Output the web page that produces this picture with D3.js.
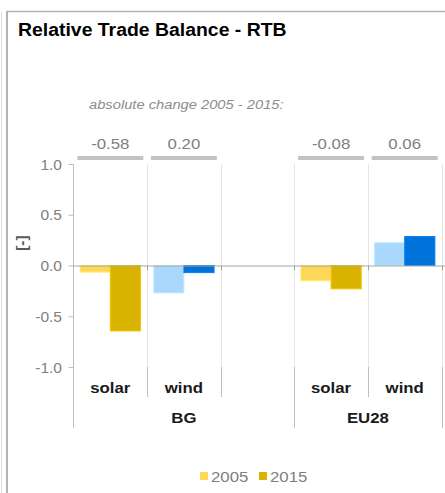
<!DOCTYPE html>
<html><head><meta charset="utf-8">
<script src="https://cdn.jsdelivr.net/npm/d3@7"></script>
<style>html,body{margin:0;padding:0;background:#fff;}svg{display:block;font-family:"Liberation Sans",Arial,sans-serif;}</style>
</head><body>
<svg id="c" width="445" height="493"></svg>
<script>
// ---- data ----
const slots = ["BG-solar","BG-wind","gap","EU28-solar","EU28-wind"];
const slotTech = ["solar","wind",null,"solar","wind"];
const groups = ["BG","EU28"];
const groupSlots = [["BG-solar","BG-wind","gap"],["EU28-solar","EU28-wind"]];
const years = ["2005","2015"];
const values2005 = [-0.065, -0.27, null, -0.15, 0.225];
const values2015 = [-0.645, -0.07, null, -0.23, 0.285];
const changeLabels = ["-0.58","0.20",null,"-0.08","0.06"];
const yTicks = [-1.0,-0.5,0.0,0.5,1.0];
const colors = {solar:["#FFD757","#D9B300"], wind:["#AAD8FC","#0073DA"]};

const svg = d3.select("#c");
// stretched text helper
function txt(parent, x, y, str, o){
  o = o||{};
  const g = parent.append("g").attr("transform",`translate(${x},${y}) scale(${o.sx||1.1},1)`);
  const t = g.append("text").attr("x",0).attr("y",0).attr("font-size",o.size||15)
    .attr("fill",o.fill||"#808080").attr("text-anchor",o.anchor||"start").text(str);
  if(o.bold) t.attr("font-weight","bold");
  if(o.italic) t.attr("font-style","italic");
  return t;
}
// frame
svg.append("line").attr("x1",1.5).attr("x2",1.5).attr("y1",12).attr("y2",493).attr("stroke","#dedede");
svg.append("line").attr("x1",7).attr("x2",7).attr("y1",11).attr("y2",493).attr("stroke","#b3b3b3").attr("stroke-width",2);
svg.append("line").attr("x1",6).attr("x2",445).attr("y1",11.5).attr("y2",11.5).attr("stroke","#b3b3b3").attr("stroke-width",1.5);

txt(svg,18,36,"Relative Trade Balance - RTB",{size:18.5,sx:1.05,bold:true,fill:"#000"});

const x = d3.scaleBand().domain(slots).range([73.5,441.5]).padding(0);
const y = d3.scaleLinear().domain([-1,1]).range([367,164]);
const xi = d3.scaleBand().domain(years).range([0,x.bandwidth()]).paddingInner(0).paddingOuter(0.22);

// gridlines
svg.append("g").selectAll("line").data(slots).join("line")
  .attr("x1",d=>Math.round(x(d)+x.bandwidth())+0.5).attr("x2",d=>Math.round(x(d)+x.bandwidth())+0.5)
  .attr("y1",y(1)).attr("y2",y(-1)).attr("stroke","#e6e6e6");

// y axis
const ya = svg.append("g").attr("transform","translate(73.5,0)")
  .call(d3.axisLeft(y).tickValues(yTicks).tickFormat(d3.format(".1f")).tickSize(5));
ya.select(".domain").attr("stroke","#bfbfbf").attr("d",`M0,${y(1)}V${y(-1)}`);
ya.selectAll(".tick line").attr("stroke","#bfbfbf");
ya.selectAll(".tick text").remove();
ya.selectAll(".tick").each(function(d){
  txt(d3.select(this),-11.5,5,d<0?"-"+d3.format(".1f")(-d):d3.format(".1f")(d),{size:14,sx:1.11,anchor:"end"});
});

svg.append("text").attr("transform",`translate(27,${y(0.22)}) rotate(-90) scale(1.1,1)`).attr("text-anchor","middle")
  .attr("font-size",14).attr("font-weight","bold").attr("fill","#595959").text("[-]");

// bars
const barData = [];
slots.forEach((s,i)=>{ if(slotTech[i]){ [values2005[i],values2015[i]].forEach((v,j)=>barData.push({s,tech:slotTech[i],year:years[j],v,j})); }});
svg.append("g").selectAll("rect").data(barData).join("rect")
  .attr("x",d=>x(d.s)+xi(d.year)).attr("width",xi.bandwidth())
  .attr("y",d=>y(Math.max(0,d.v))).attr("height",d=>Math.abs(y(d.v)-y(0)))
  .attr("fill",d=>colors[d.tech][d.j]).attr("stroke",d=>d3.color(colors[d.tech][d.j]).brighter(0.3)).attr("stroke-width",1);

// zero line
svg.append("line").attr("x1",73).attr("x2",445).attr("y1",y(0)+0.5).attr("y2",y(0)+0.5).attr("stroke","#a6a6a6");
svg.append("g").selectAll("line").data(slots).join("line")
  .attr("x1",d=>Math.round(x(d)+x.bandwidth())+0.5).attr("x2",d=>Math.round(x(d)+x.bandwidth())+0.5)
  .attr("y1",y(0)).attr("y2",y(0)+5).attr("stroke","#a6a6a6");

// change indicators
const chg = slots.map((s,i)=>({s,l:changeLabels[i]})).filter(d=>d.l);
svg.append("g").selectAll("rect").data(chg).join("rect")
  .attr("x",d=>x(d.s)+x.bandwidth()/2-33).attr("width",66).attr("y",156).attr("height",4).attr("fill","#c3c3c3");
const cg = svg.append("g");
chg.forEach(d=>txt(cg,x(d.s)+x.bandwidth()/2,149,d.l,{size:15,sx:1.12,anchor:"middle"}));
txt(svg,89,109,"absolute change 2005 - 2015:",{size:13.5,sx:1.09,italic:true,fill:"#8c8c8c"});

// category axis
const cat = svg.append("g");
cat.append("line").attr("x1",73.5).attr("x2",73.5).attr("y1",y(-1)).attr("y2",428).attr("stroke","#bfbfbf");
slots.forEach((s,i)=>{
  const xr = Math.round(x(s)+x.bandwidth())+0.5;
  const groupEnd = (i===2||i===4);
  cat.append("line").attr("x1",xr).attr("x2",xr).attr("y1",y(-1)).attr("y2",groupEnd?428:397).attr("stroke","#bfbfbf");
  if(slotTech[i]) txt(cat,x(s)+x.bandwidth()/2,393,slotTech[i],{size:15,sx:1.12,anchor:"middle",bold:true,fill:"#1a1a1a"});
});
groups.forEach((g,gi)=>{
  const ss = groupSlots[gi];
  const cx = (x(ss[0]) + x(ss[ss.length-1])+x.bandwidth())/2;
  txt(cat,cx,423,g,{size:15,sx:1.12,anchor:"middle",bold:true,fill:"#1a1a1a"});
});

// legend
const leg = svg.append("g").attr("transform","translate(200,472)");
years.forEach((yr,j)=>{
  const gx = j*59;
  leg.append("rect").attr("x",gx).attr("y",0).attr("width",8).attr("height",8).attr("fill",colors.solar[j]);
  txt(leg,gx+11,9.5,yr,{size:15,sx:1.12});
});
</script>
</body></html>
